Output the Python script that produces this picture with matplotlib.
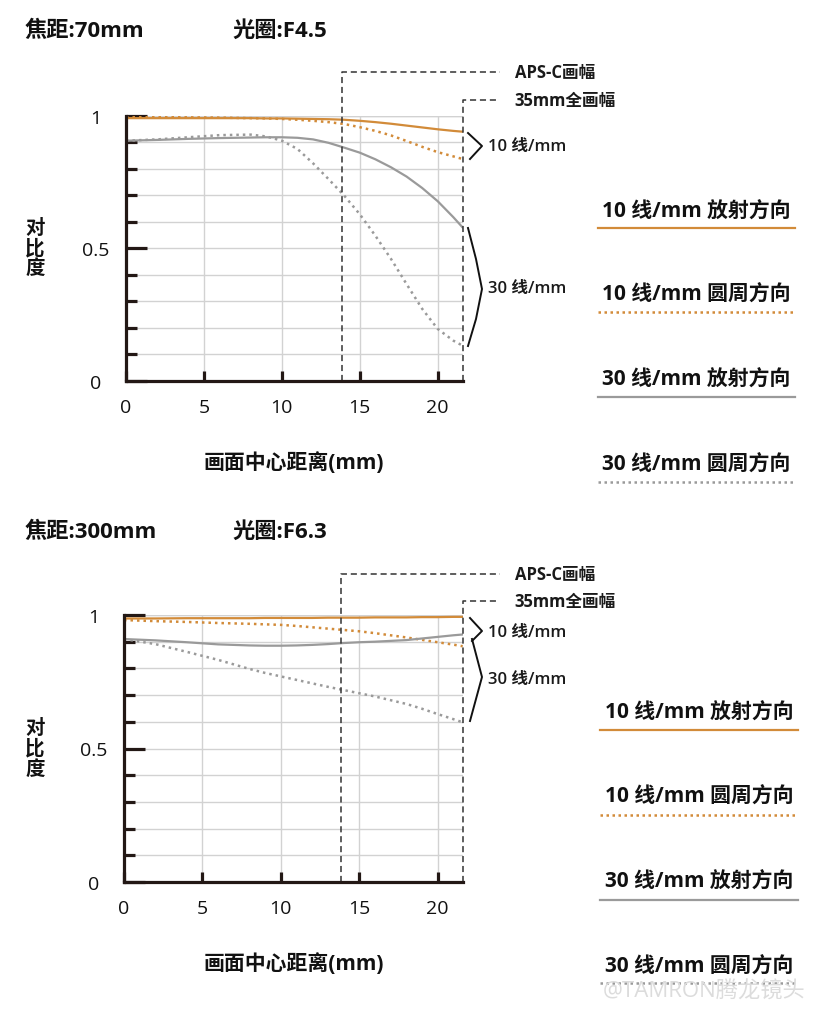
import matplotlib.pyplot as plt
import numpy as np
from matplotlib.lines import Line2D
from matplotlib.transforms import Affine2D, blended_transform_factory

plt.rcParams['font.family'] = ['Open Sans', 'Noto Sans CJK SC', 'DejaVu Sans']

W, H = 820, 1012
ORANGE = '#D28B39'
GREY = '#9A9A9A'
DARK = '#231815'
GRID = '#D2D2D2'

# image height positions (mm from center)
x_pos = [0, 2, 4, 6, 8, 9, 10, 11, 12, 13, 14, 15, 16, 17, 18, 19, 20, 21, 21.6]

# 70mm F4.5
r10_70 = [0.99, 0.99, 0.99, 0.99, 0.99, 0.989, 0.989, 0.988, 0.987, 0.986, 0.984,
          0.98, 0.975, 0.969, 0.962, 0.955, 0.948, 0.942, 0.939]
s10_70 = [0.995, 0.994, 0.993, 0.992, 0.99, 0.989, 0.987, 0.984, 0.98, 0.975, 0.968,
          0.956, 0.942, 0.925, 0.904, 0.882, 0.862, 0.846, 0.836]
r30_70 = [0.905, 0.908, 0.912, 0.915, 0.917, 0.918, 0.918, 0.916, 0.91, 0.897, 0.879,
          0.86, 0.835, 0.805, 0.77, 0.727, 0.677, 0.617, 0.578]
s30_70 = [0.905, 0.91, 0.918, 0.926, 0.928, 0.921, 0.905, 0.874, 0.82, 0.76, 0.698,
          0.628, 0.547, 0.46, 0.365, 0.272, 0.196, 0.152, 0.133]

# 300mm F6.3
r10_300 = [0.987, 0.987, 0.988, 0.988, 0.988, 0.989, 0.989, 0.989, 0.989, 0.99, 0.99,
           0.99, 0.991, 0.991, 0.991, 0.992, 0.992, 0.993, 0.993]
s10_300 = [0.981, 0.977, 0.974, 0.97, 0.967, 0.965, 0.963, 0.959, 0.954, 0.949, 0.944,
           0.939, 0.932, 0.924, 0.916, 0.907, 0.898, 0.889, 0.883]
r30_300 = [0.91, 0.905, 0.898, 0.89, 0.886, 0.885, 0.885, 0.886, 0.888, 0.891, 0.895,
           0.898, 0.9, 0.903, 0.906, 0.912, 0.918, 0.924, 0.927]
s30_300 = [0.91, 0.891, 0.862, 0.832, 0.798, 0.783, 0.77, 0.757, 0.744, 0.731, 0.719,
           0.707, 0.695, 0.681, 0.667, 0.649, 0.629, 0.61, 0.598]

aps_c_edge = 13.85
full_frame_edge = 21.6
x_ticks = [0, 5, 10, 15, 20]

legend_labels = ['10 线/mm 放射方向', '10 线/mm 圆周方向', '30 线/mm 放射方向', '30 线/mm 圆周方向']
legend_styles = [(ORANGE, '-'), (ORANGE, ':'), (GREY, '-'), (GREY, ':')]

panels = [
    dict(focal='焦距:70mm', aperture='光圈:F4.5', series=[r10_70, s10_70, r30_70, s30_70],
         top=116.5, bottom=382, left=126, title_y=31, aps_y=73, ff_y=101,
         br10=[(468, 134), (482, 147), (470, 160)], br10_y=147,
         br30=[(468, 229), (476, 260), (482, 290), (476, 320), (468, 347)], br30_y=289,
         leg=[(212, 229), (295, 313), (380, 398), (465, 483)], leg_x=(598, 795)),
    dict(focal='焦距:300mm', aperture='光圈:F6.3', series=[r10_300, s10_300, r30_300, s30_300],
         top=616, bottom=883, left=124, title_y=532, aps_y=575, ff_y=602,
         br10=[(470, 619), (482, 632), (472, 642)], br10_y=633,
         br30=[(472, 640), (482, 678), (470, 722)], br30_y=680,
         leg=[(713, 731), (797, 816), (882, 901), (967, 984)], leg_x=(600, 798)),
]

fig = plt.figure(figsize=(W / 100, H / 100), dpi=100)
pxt = Affine2D().scale(1 / W, -1 / H).translate(0, 1) + fig.transFigure

for p in panels:
    right = 463
    ax = fig.add_axes([p['left'] / W, 1 - p['bottom'] / H,
                       (right - p['left']) / W, (p['bottom'] - p['top']) / H])
    ax.set_xlim(0, 21.62)
    ax.set_ylim(0, 1)

    for (color, ls), ys in zip(legend_styles, p['series']):
        if ls == '-':
            ax.plot(x_pos, ys, color=color, lw=1.6, solid_capstyle='round', zorder=3)
        else:
            ax.plot(x_pos, ys, color=color, lw=1.8, linestyle=(0, (1, 1.6)), zorder=3)

    for s in ['top', 'right']:
        ax.spines[s].set_visible(False)
    for s in ['left', 'bottom']:
        ax.spines[s].set_linewidth(2.3)
        ax.spines[s].set_color(DARK)
        ax.spines[s].set_zorder(5)

    ax.set_yticks([0, 0.5, 1])
    ax.set_yticklabels(['0', '0.5', '1'])
    ax.set_yticks([0.1, 0.2, 0.3, 0.4, 0.6, 0.7, 0.8, 0.9], minor=True)
    ax.set_xticks(x_ticks)
    ax.set_xticklabels([str(t) for t in x_ticks])
    ax.tick_params(axis='y', which='major', direction='in', length=15, width=2.3,
                   color=DARK, pad=22, labelsize=14, labelcolor='#111111')
    ax.tick_params(axis='y', which='minor', direction='in', length=8, width=2.3, color=DARK)
    ax.tick_params(axis='x', direction='in', length=7, width=2.3, color=DARK, pad=12,
                   labelsize=14, labelcolor='#111111')
    for lab in ax.get_yticklabels():
        lab.set_horizontalalignment('center')
    ax.grid(True, which='both', axis='y', color=GRID, lw=1.0, zorder=0)
    ax.grid(True, which='major', axis='x', color=GRID, lw=1.0, zorder=0)
    ax.axhline(1.0, color=GRID, lw=1.0, zorder=0)
    ax.set_axisbelow(True)

    # sensor-size boxes
    bt = blended_transform_factory(ax.transData, pxt)
    ax.plot([aps_c_edge, aps_c_edge, 24.0], [p['bottom'], p['aps_y'], p['aps_y']],
            transform=bt, color='#333333', lw=1.1, linestyle=(0, (4, 2.5)), clip_on=False, zorder=4)
    ax.plot([full_frame_edge, full_frame_edge, 23.8], [p['bottom'], p['ff_y'], p['ff_y']],
            transform=bt, color='#333333', lw=1.1, linestyle=(0, (4, 2.5)), clip_on=False, zorder=4)
    fig.text(515, p['aps_y'], 'APS-C画幅', transform=pxt, fontsize=12, fontweight='bold',
             va='center', ha='left', color='#1a1a1a')
    fig.text(514, p['ff_y'], '35mm全画幅', transform=pxt, fontsize=12, fontweight='bold',
             va='center', ha='left', color='#1a1a1a')

    # brackets
    for pts in (p['br10'], p['br30']):
        xs, ys = zip(*pts)
        fig.add_artist(Line2D(xs, ys, transform=pxt, color='#111111', lw=1.4))
    fig.text(488, p['br10_y'], '10 线/mm', transform=pxt, fontsize=12, fontweight='semibold',
             va='center', ha='left', color='#1a1a1a')
    fig.text(488, p['br30_y'], '30 线/mm', transform=pxt, fontsize=12, fontweight='semibold',
             va='center', ha='left', color='#1a1a1a')

    # titles and axis labels
    fig.text(25, p['title_y'], p['focal'], transform=pxt, fontsize=16, fontweight='bold',
             va='center', ha='left', color='#111111')
    fig.text(232, p['title_y'], p['aperture'], transform=pxt, fontsize=16, fontweight='bold',
             va='center', ha='left', color='#111111')
    fig.text(294, p['bottom'] + 81, '画面中心距离(mm)', transform=pxt, fontsize=15,
             fontweight='bold', va='center', ha='center', color='#111111')
    fig.text(35, (p['top'] + p['bottom']) / 2, '对\n比\n度', transform=pxt, fontsize=14,
             fontweight='bold', va='center', ha='center', linespacing=1.0, color='#111111')

    # legend
    x0, x1 = p['leg_x']
    for (ty, ly), label, (color, ls) in zip(p['leg'], legend_labels, legend_styles):
        fig.text((x0 + x1) / 2, ty, label, transform=pxt, fontsize=15, fontweight='bold',
                 va='center', ha='center', color='#111111')
        if ls == '-':
            fig.add_artist(Line2D([x0, x1], [ly, ly], transform=pxt, color=color, lw=1.6))
        else:
            fig.add_artist(Line2D([x0, x1], [ly, ly], transform=pxt, color=color, lw=1.8,
                                  linestyle=(0, (1, 1.4))))

fig.text(603, 992, '@TAMRON腾龙镜头', transform=pxt, fontsize=16, va='center', ha='left',
         color='#DCDCDC')

plt.savefig('out.png', dpi=100)
